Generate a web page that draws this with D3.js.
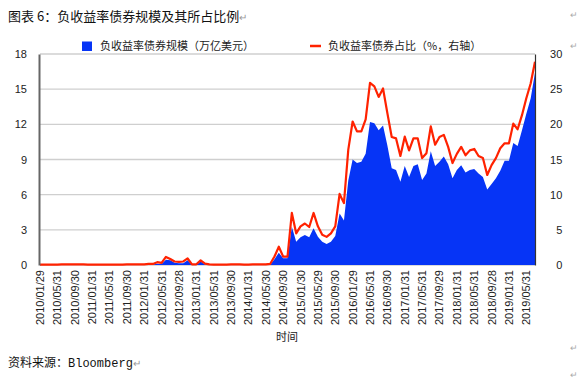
<!DOCTYPE html>
<html>
<head>
<meta charset="utf-8">
<script src="https://cdn.jsdelivr.net/npm/d3@7"></script>
<style>
  body { margin: 0; background: #fff; }
  svg { display: block; }
  .cn { font-family: "Noto Sans CJK SC", sans-serif; }
  .num { font-family: "Liberation Sans", Arial, sans-serif; }
</style>
</head>
<body>
<svg id="chart" width="577" height="381"></svg>
<script>
// x-axis labels, one every 4 months (2010/01 .. 2019/05)
const tickLabels = ['2010/01/29', '2010/05/31', '2010/09/30', '2011/01/31', '2011/05/31', '2011/09/30',
  '2012/01/31', '2012/05/31', '2012/09/28', '2013/01/31', '2013/05/31', '2013/09/30', '2014/01/31',
  '2014/05/30', '2014/09/30', '2015/01/30', '2015/05/29', '2015/09/30', '2016/01/29', '2016/05/31',
  '2016/09/30', '2017/01/31', '2017/05/31', '2017/09/29', '2018/01/31', '2018/05/31', '2018/09/28',
  '2019/01/31', '2019/05/31']

// negative yield debt, trillion USD (monthly, 2010/01 .. 2019/07)
const sizeTn = [
  0.01, 0.01, 0.01, 0.01, 0.01, 0.01, 0.01, 0.02, 0.02, 0.02, 0.01, 0.01, 0.01, 0.01, 0.01, 0.01,
  0.01, 0.01, 0.01, 0.01, 0.01, 0.02, 0.02, 0.02, 0.02, 0.03,
  0.05, 0.1, 0.08, 0.45, 0.4, 0.2, 0.15, 0.15, 0.4, 0.02, 0.02, 0.3, 0.05,
  0.02, 0.01, 0.01, 0.01, 0.01, 0.01, 0.01, 0.01, 0.01, 0.01, 0.01, 0.01, 0.01, 0.02, 0.03,
  0.5, 1.05, 0.57, 0.57, 3.27, 1.99, 2.36, 2.56, 2.36, 3.13, 2.42, 1.99, 1.79, 1.99, 2.47, 4.4,
  3.8, 7.2, 9.0, 8.7, 8.8, 9.5, 12.2, 12.1, 11.5, 11.9, 10.2, 8.25, 8.1, 7.1, 8.45, 7.5,
  8.45, 8.6, 7.25, 7.8, 9.7, 8.45, 8.8, 9.25, 8.6, 7.4, 8.1, 8.5, 7.9, 8.1, 8.2, 7.8,
  7.5, 6.45, 6.9, 7.4, 8.05, 8.9, 8.9, 10.4, 10.15, 11.5, 12.9, 14.2, 16.4
]

// share of negative yield debt, % (right axis)
const sharePct = [
  0.05, 0.05, 0.05, 0.05, 0.05, 0.08, 0.08, 0.1, 0.1, 0.1, 0.08, 0.05, 0.05, 0.05, 0.05, 0.05,
  0.05, 0.05, 0.05, 0.05, 0.08, 0.1, 0.1, 0.1, 0.1, 0.15,
  0.15, 0.4, 0.3, 1.15, 0.85, 0.5, 0.45, 0.5, 0.95, 0.1, 0.1, 0.65, 0.2,
  0.08, 0.05, 0.05, 0.05, 0.05, 0.08, 0.08, 0.08, 0.05, 0.05, 0.08, 0.08, 0.08, 0.1, 0.15,
  1.2, 2.6, 1.2, 1.2, 7.4, 4.5, 5.5, 5.9, 5.4, 7.4, 5.5, 4.3, 4.0, 4.5, 5.5, 10.1,
  8.8, 16.4, 20.4, 19.0, 19.0, 20.7, 25.9, 25.4, 23.9, 25.1, 21.6, 18.2, 18.0, 15.5, 18.25, 16.3,
  18.0, 18.0, 15.2, 15.9, 19.7, 17.1, 18.2, 18.5, 16.8, 14.5, 15.8, 16.8, 15.6, 16.3, 16.5, 15.5,
  15.2, 12.8, 14.2, 15.2, 16.6, 17.3, 17.3, 20.1, 19.3, 21.3, 23.7, 25.8, 28.9
]

const leftTicks = [0, 3, 6, 9, 12, 15, 18]
const rightTicks = [0, 5, 10, 15, 20, 25, 30]

const BLUE = '#0634f6'
const RED = '#ff2200'

const svg = d3.select('#chart')
const plotL = 40, plotR = 535, plotT = 54, plotB = 265

const idx = d3.range(sizeTn.length)
const x = d3.scalePoint().domain(idx).range([plotL, plotR])
const yL = d3.scaleLinear().domain([0, 18]).range([plotB, plotT])
const yR = d3.scaleLinear().domain([0, 30]).range([plotB, plotT])

// gridlines
svg.append('g')
  .selectAll('line')
  .data(leftTicks)
  .join('line')
  .attr('x1', plotL).attr('x2', plotR)
  .attr('y1', d => yL(d)).attr('y2', d => yL(d))
  .attr('stroke', '#cfcfcf')
  .attr('stroke-width', 1.3)

// blue area
const area = d3.area()
  .x((d, i) => x(i))
  .y0(plotB)
  .y1(d => yL(d))
svg.append('path')
  .datum(sizeTn)
  .attr('d', area)
  .attr('fill', BLUE)

// red line
const line = d3.line()
  .x((d, i) => x(i))
  .y(d => yR(d))
svg.append('path')
  .datum(sharePct)
  .attr('d', line)
  .attr('fill', 'none')
  .attr('stroke', RED)
  .attr('stroke-width', 2.2)
  .attr('stroke-linejoin', 'round')

// left axis
const gL = svg.append('g')
  .attr('transform', `translate(${plotL - 1},0)`)
  .call(d3.axisLeft(yL).tickValues(leftTicks).tickSize(0).tickPadding(12))
gL.select('.domain').attr('stroke', '#666').attr('stroke-width', 2)
gL.selectAll('text').attr('class', 'num').attr('font-size', 11).attr('fill', '#222')

// right axis
const gR = svg.append('g')
  .attr('transform', `translate(${plotR},0)`)
  .call(d3.axisRight(yR).tickValues(rightTicks).tickSize(0).tickPadding(13))
gR.select('.domain').attr('stroke', '#333').attr('stroke-width', 1.2)
gR.selectAll('text').attr('class', 'num').attr('font-size', 11).attr('fill', '#222')
  .attr('text-anchor', 'end').attr('dx', '1.3em')

// x labels, rotated
svg.append('g')
  .selectAll('text')
  .data(tickLabels)
  .join('text')
  .attr('class', 'num')
  .attr('font-size', 11)
  .attr('fill', '#222')
  .attr('text-anchor', 'end')
  .attr('transform', (d, i) => `translate(${x(i * 4) + 4},${plotB + 5}) rotate(-90)`)
  .text(d => d)

// axis title
svg.append('text')
  .attr('class', 'cn')
  .attr('x', 287).attr('y', 341)
  .attr('text-anchor', 'middle')
  .attr('font-size', 11)
  .attr('fill', '#222')
  .text('时间')

// legend
svg.append('rect')
  .attr('x', 82).attr('y', 41.5).attr('width', 10).attr('height', 9.5)
  .attr('fill', BLUE)
svg.append('text')
  .attr('class', 'cn')
  .attr('x', 100).attr('y', 50)
  .attr('font-size', 11)
  .attr('fill', '#222')
  .text('负收益率债券规模（万亿美元）')
svg.append('line')
  .attr('x1', 310).attr('x2', 321).attr('y1', 46).attr('y2', 46)
  .attr('stroke', RED).attr('stroke-width', 2.5)
svg.append('text')
  .attr('class', 'cn')
  .attr('x', 328).attr('y', 50)
  .attr('font-size', 11)
  .attr('fill', '#222')
  .text('负收益率债券占比（%，右轴）')

// title and source
const title = svg.append('text')
  .attr('class', 'cn')
  .attr('x', 8).attr('y', 21)
  .attr('font-size', 13)
  .attr('fill', '#111')
title.append('tspan').text('图表 6：负收益率债券规模及其所占比例')
title.append('tspan').attr('fill', '#999').attr('font-size', 10).text('↵')

const src = svg.append('text')
  .attr('class', 'cn')
  .attr('x', 8).attr('y', 367)
  .attr('font-size', 12)
  .attr('fill', '#111')
src.append('tspan').text('资料来源：')
src.append('tspan').attr('font-family', '"Liberation Mono", monospace').text('Bloomberg')
src.append('tspan').attr('fill', '#999').attr('font-size', 10).text('↵')

// paragraph marks at the right edge
svg.append('g')
  .selectAll('text')
  .data([18, 49, 351, 378])
  .join('text')
  .attr('x', 570).attr('y', d => d)
  .attr('font-size', 9)
  .attr('fill', '#aaa')
  .attr('class', 'cn')
  .text('↵')
</script>
</body>
</html>
